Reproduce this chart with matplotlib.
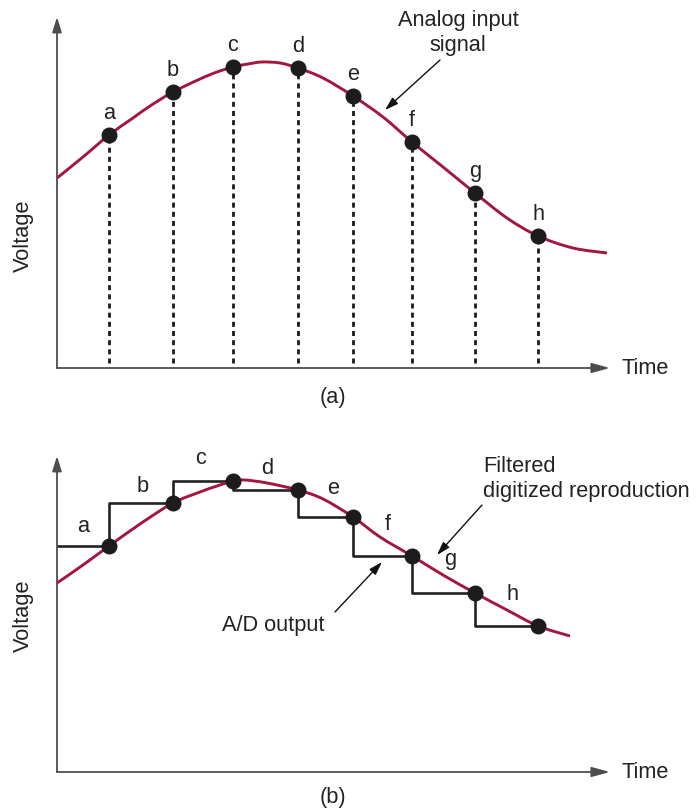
import matplotlib.pyplot as plt
from matplotlib.path import Path
from matplotlib.patches import PathPatch

plt.rcParams['font.family'] = ['Liberation Sans', 'DejaVu Sans']

# sample instants (same for both panels)
sample_t = [52, 116, 176, 241, 296, 355, 418, 481]
sample_names = ['a', 'b', 'c', 'd', 'e', 'f', 'g', 'h']

# panel (a): analog input and its samples
sample_v_a = [233, 276, 301, 300, 272, 226, 175, 132]
curve_t_a = [0, 26, 52, 76, 93, 116, 143, 160, 176, 191, 205, 223, 241,
             266, 296, 326, 355, 386, 418, 450, 481, 516, 550]
curve_v_a = [190, 211, 233, 250, 262, 276, 289, 296, 301, 304, 306, 305, 300,
             290, 272, 251, 226, 201, 175, 150, 132, 120, 115]

# panel (b): samples, held A/D output and filtered reproduction
sample_v_b = [226, 269, 291, 282, 255, 216, 179, 146]
curve_t_b = [0, 26, 52, 83, 116, 143, 160, 176, 188, 210, 241, 266, 296,
             323, 355, 386, 418, 450, 481, 513]
curve_v_b = [189, 207, 226, 248, 269, 280, 286, 291, 292, 289, 282, 273, 255,
             235, 216, 197, 179, 162, 146, 136]

W, H = 698, 811
RED = '#a3163f'
DOT = '#1c1c1c'
AXC = '#4d4d4d'
FS = 15.7


def smooth_path(xs, ys):
    # bezier through the read points (catmull-rom tangents)
    pts = list(zip(xs, ys))
    verts = [pts[0]]
    codes = [Path.MOVETO]
    n = len(pts)
    for i in range(n - 1):
        p0 = pts[i - 1] if i > 0 else pts[i]
        p1, p2 = pts[i], pts[i + 1]
        p3 = pts[i + 2] if i + 2 < n else pts[i + 1]
        c1 = (p1[0] + (p2[0] - p0[0]) / 6, p1[1] + (p2[1] - p0[1]) / 6)
        c2 = (p2[0] - (p3[0] - p1[0]) / 6, p2[1] - (p3[1] - p1[1]) / 6)
        verts += [c1, c2, p2]
        codes += [Path.CURVE4] * 3
    return Path(verts, codes)


fig = plt.figure(figsize=(W / 100, H / 100), dpi=100)


def px_axes(left, top, right, bottom):
    ax = fig.add_axes([left / W, 1 - bottom / H, (right - left) / W, (bottom - top) / H])
    ax.set_xlim(0, right - left)
    ax.set_ylim(0, bottom - top)
    ax.axis('off')
    # axis arrows
    ax.annotate('', xy=(0, 1), xytext=(0, 0), xycoords='axes fraction',
                arrowprops=dict(arrowstyle='-|>,head_length=0.9,head_width=0.28',
                                color=AXC, lw=1.3, mutation_scale=10,
                                shrinkA=0, shrinkB=0))
    ax.annotate('', xy=(1, 0), xytext=(0, 0), xycoords='axes fraction',
                arrowprops=dict(arrowstyle='-|>,head_length=1.1,head_width=0.3',
                                color=AXC, lw=1.3, mutation_scale=10,
                                shrinkA=0, shrinkB=0))
    return ax


def ftext(x, y, s, **kw):
    fig.text(x / W, 1 - y / H, s, fontsize=FS, color='#222222', **kw)


def pointer(ax, tip, tail):
    ax.annotate('', xy=tip, xytext=tail,
                arrowprops=dict(arrowstyle='-|>,head_length=0.8,head_width=0.25',
                                color='#111111', lw=1.0, mutation_scale=10,
                                shrinkA=0, shrinkB=0))


# ---- panel (a)
ax1 = px_axes(57, 17, 610, 368)
ax1.add_patch(PathPatch(smooth_path(curve_t_a, curve_v_a), fill=False,
                        edgecolor=RED, lw=2.1, zorder=3, capstyle='butt'))
ax1.vlines(sample_t, 5, sample_v_a, colors='#1a1a1a', lw=2.0,
           linestyles=(0, (1.8, 1.5)), zorder=2)
ax1.plot(sample_t, sample_v_a, 'o', color=DOT, ms=10.5, zorder=4, clip_on=False)
for t, v, s in zip(sample_t, sample_v_a, sample_names):
    ax1.annotate(s, (t, v), xytext=(0, 16), textcoords='offset pixels',
                 ha='center', va='baseline', fontsize=FS, color='#222222')
pointer(ax1, (328, 258), (383, 308))

ftext(458, 33, 'Analog input\nsignal', ha='center', va='center',
      multialignment='center', linespacing=1.3)
ftext(621, 368, 'Time', ha='left', va='center')
ftext(333, 398, '(a)', ha='center', va='center')
ftext(23, 236, 'Voltage', ha='center', va='center', rotation=90)

# ---- panel (b)
ax2 = px_axes(57, 456, 610, 772)
step_t = [0] + sample_t
step_v = [sample_v_b[0]] + sample_v_b
ax2.step(step_t, step_v, where='pre', color='#222222', lw=1.9, zorder=2)
ax2.add_patch(PathPatch(smooth_path(curve_t_b, curve_v_b), fill=False,
                        edgecolor=RED, lw=2.1, zorder=3, capstyle='butt'))
ax2.plot(sample_t, sample_v_b, 'o', color=DOT, ms=10.5, zorder=4, clip_on=False)

label_dx = [0, 1.5, -2, 2, 7.5, 5.5, 6.5, 5.5]
label_dy = [14.5, 10.5, 17.5, 15.5, 23.5, 26.5, 28.5, 25.5]
for i, s in enumerate(sample_names):
    mid = (step_t[i] + step_t[i + 1]) / 2
    ax2.annotate(s, (mid, sample_v_b[i]), xytext=(label_dx[i], label_dy[i]),
                 textcoords='offset pixels', ha='center', va='baseline',
                 fontsize=FS, color='#222222')

pointer(ax2, (380, 217), (425, 267))
pointer(ax2, (325, 210), (278, 160))

ftext(483, 479, 'Filtered\ndigitized reproduction', ha='left', va='center',
      multialignment='left', linespacing=1.2)
ftext(273, 625, 'A/D output', ha='center', va='center')
ftext(621, 772, 'Time', ha='left', va='center')
ftext(333, 797, '(b)', ha='center', va='center')
ftext(23, 616, 'Voltage', ha='center', va='center', rotation=90)

fig.savefig('out.png', dpi=100)
